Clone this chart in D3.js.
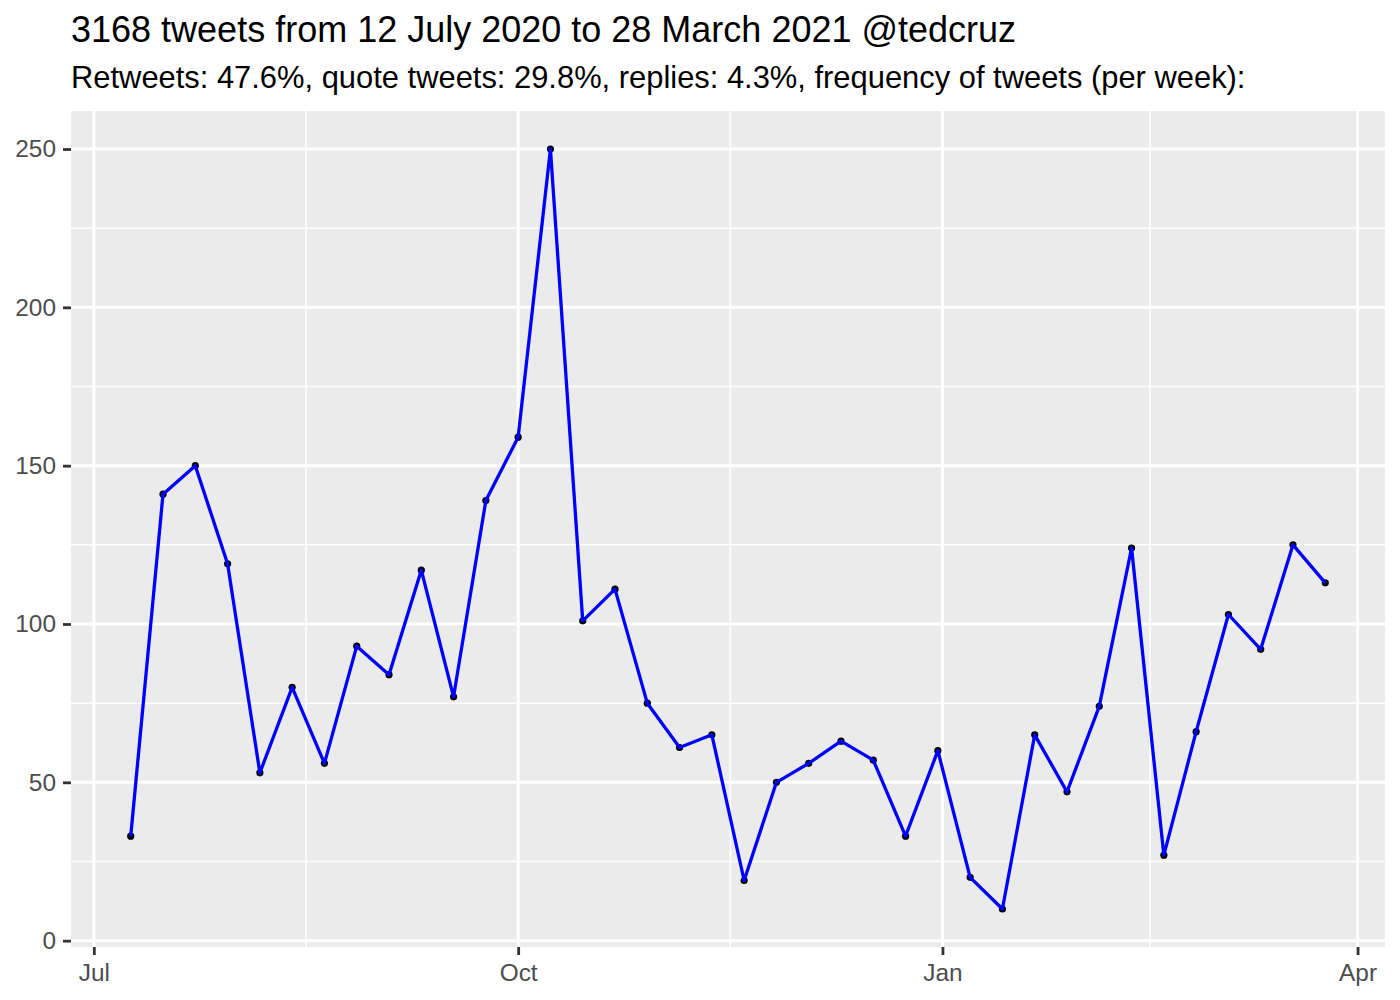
<!DOCTYPE html>
<html lang="en">
<head>
    <meta charset="UTF-8">
    <title>@tedcruz tweets per week</title>
    <script src="https://cdnjs.cloudflare.com/ajax/libs/d3/7.8.5/d3.min.js"></script>
    <style>
        body { margin: 0; background: #fff; }
        svg text { font-family: "Liberation Sans", Arial, Helvetica, sans-serif; }
        .tick-label { fill: #4d4d4d; font-size: 24.4px; }
    </style>
</head>
<body>
<div id="chart"></div>
<script>
    // weekly counts (week dates as plotted)
    const weeks = [
        "2020-07-09", "2020-07-16", "2020-07-23", "2020-07-30", "2020-08-06", "2020-08-13",
        "2020-08-20", "2020-08-27", "2020-09-03", "2020-09-10", "2020-09-17", "2020-09-24",
        "2020-10-01", "2020-10-08", "2020-10-15", "2020-10-22", "2020-10-29", "2020-11-05",
        "2020-11-12", "2020-11-19", "2020-11-26", "2020-12-03", "2020-12-10", "2020-12-17",
        "2020-12-24", "2020-12-31", "2021-01-07", "2021-01-14", "2021-01-21", "2021-01-28",
        "2021-02-04", "2021-02-11", "2021-02-18", "2021-02-25", "2021-03-04", "2021-03-11",
        "2021-03-18", "2021-03-25"
    ];
    const tweets = [
        33, 141, 150, 119, 53, 80, 56, 93, 84, 117, 77, 139,
        159, 250, 101, 111, 75, 61, 65, 19, 50, 56, 63, 57,
        33, 60, 20, 10, 65, 47, 74, 124, 27, 66, 103, 92,
        125, 113
    ];
    const xTicks = ["2020-07-01", "2020-10-01", "2021-01-01", "2021-04-01"];
    const xTickLabels = ["Jul", "Oct", "Jan", "Apr"];
    const xMinor = ["2020-08-16", "2020-11-16", "2021-02-15"];
    const yTicks = [0, 50, 100, 150, 200, 250];
    const yMinor = [25, 75, 125, 175, 225];

    const titleText = "3168 tweets from 12 July 2020 to 28 March 2021 @tedcruz";
    const subtitleText = "Retweets: 47.6%, quote tweets: 29.8%, replies: 4.3%, frequency of tweets (per week):";

    const parse = d3.utcParse("%Y-%m-%d");
    const data = weeks.map((w, i) => ({date: parse(w), n: tweets[i]}));

    const width = 1400, height = 1000;
    const margin = {top: 111, right: 15, bottom: 53, left: 71};
    const pw = width - margin.left - margin.right,
          ph = height - margin.top - margin.bottom;

    // ggplot style 5% expansion
    const dExt = d3.extent(data, d => d.date);
    const dPad = (dExt[1] - dExt[0]) * 0.05;
    const nExt = d3.extent(data, d => d.n);
    const nPad = (nExt[1] - nExt[0]) * 0.05;

    const x = d3.scaleUtc()
        .domain([new Date(+dExt[0] - dPad), new Date(+dExt[1] + dPad)])
        .range([0, pw]);
    const y = d3.scaleLinear()
        .domain([nExt[0] - nPad, nExt[1] + nPad])
        .range([ph, 0]);

    const svg = d3.select("#chart").append("svg")
        .attr("width", width)
        .attr("height", height);

    svg.append("text")
        .attr("x", 71).attr("y", 42)
        .style("font-size", "36px")
        .style("fill", "#000")
        .text(titleText);

    svg.append("text")
        .attr("x", 71).attr("y", 88)
        .style("font-size", "30.9px")
        .style("fill", "#000")
        .text(subtitleText);

    const g = svg.append("g")
        .attr("transform", `translate(${margin.left},${margin.top})`);

    g.append("rect")
        .attr("width", pw).attr("height", ph)
        .attr("fill", "#ebebeb");

    // minor grid
    g.selectAll(".ymin").data(yMinor).enter().append("line")
        .attr("x1", 0).attr("x2", pw)
        .attr("y1", d => y(d)).attr("y2", d => y(d))
        .attr("stroke", "#fff").attr("stroke-width", 1.5);
    g.selectAll(".xmin").data(xMinor).enter().append("line")
        .attr("y1", 0).attr("y2", ph)
        .attr("x1", d => x(parse(d))).attr("x2", d => x(parse(d)))
        .attr("stroke", "#fff").attr("stroke-width", 1.5);

    // major grid
    g.selectAll(".ymaj").data(yTicks).enter().append("line")
        .attr("x1", 0).attr("x2", pw)
        .attr("y1", d => y(d)).attr("y2", d => y(d))
        .attr("stroke", "#fff").attr("stroke-width", 3);
    g.selectAll(".xmaj").data(xTicks).enter().append("line")
        .attr("y1", 0).attr("y2", ph)
        .attr("x1", d => x(parse(d))).attr("x2", d => x(parse(d)))
        .attr("stroke", "#fff").attr("stroke-width", 3);

    // axes
    const yAxis = g.append("g")
        .call(d3.axisLeft(y).tickValues(yTicks).tickSize(8).tickPadding(7));
    const xAxis = g.append("g")
        .attr("transform", `translate(0,${ph})`)
        .call(d3.axisBottom(x).tickValues(xTicks.map(parse))
            .tickFormat((d, i) => xTickLabels[i]).tickSize(8).tickPadding(6));

    [yAxis, xAxis].forEach(a => {
        a.select(".domain").remove();
        a.selectAll(".tick line").attr("stroke", "#333").attr("stroke-width", 2.8);
        a.selectAll(".tick text").attr("class", "tick-label").attr("font-family", null).attr("font-size", null);
    });
    xAxis.selectAll(".tick text").attr("dy", "0.8em");

    // points then line
    g.selectAll(".pt").data(data).enter().append("circle")
        .attr("cx", d => x(d.date)).attr("cy", d => y(d.n))
        .attr("r", 3.6)
        .attr("fill", "#000");

    g.append("path")
        .datum(data)
        .attr("fill", "none")
        .attr("stroke", "#0000ff")
        .attr("stroke-width", 3.3)
        .attr("stroke-linejoin", "round")
        .attr("d", d3.line().x(d => x(d.date)).y(d => y(d.n)));
</script>
</body>
</html>
